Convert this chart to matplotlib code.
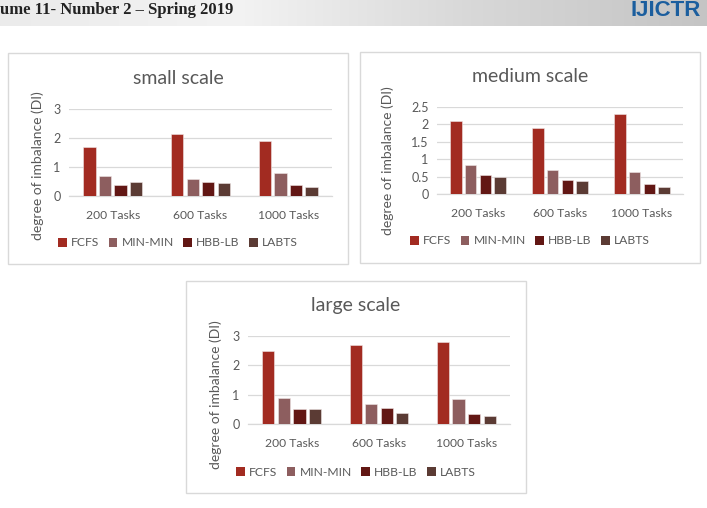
import numpy as np
import matplotlib
matplotlib.use("Agg")
import matplotlib.pyplot as plt
from matplotlib.patches import Rectangle
from matplotlib.colors import LinearSegmentedColormap

categories = ["200 Tasks", "600 Tasks", "1000 Tasks"]
series = ["FCFS", "MIN-MIN", "HBB-LB", "LABTS"]
colors = ["#A22B21", "#8D5E5F", "#621714", "#5B3B34"]

small_vals = {
    "FCFS": [1.70, 2.12, 1.90],
    "MIN-MIN": [0.69, 0.60, 0.80],
    "HBB-LB": [0.39, 0.49, 0.37],
    "LABTS": [0.48, 0.45, 0.32],
}
medium_vals = {
    "FCFS": [2.10, 1.89, 2.30],
    "MIN-MIN": [0.85, 0.70, 0.64],
    "HBB-LB": [0.55, 0.42, 0.29],
    "LABTS": [0.49, 0.39, 0.22],
}
large_vals = {
    "FCFS": [2.49, 2.70, 2.80],
    "MIN-MIN": [0.91, 0.70, 0.85],
    "HBB-LB": [0.51, 0.57, 0.35],
    "LABTS": [0.51, 0.39, 0.28],
}
small_ticks = [0, 1, 2, 3]
medium_ticks = [0, 0.5, 1, 1.5, 2, 2.5]
large_ticks = [0, 1, 2, 3]

FONT = ["Lato", "DejaVu Sans"]
plt.rcParams["font.family"] = FONT
GRAY = "#595959"

W, H = 707, 508
fig = plt.figure(figsize=(W / 100, H / 100), dpi=100)
fig.patch.set_facecolor("white")

# header band with gradient
hdr = fig.add_axes([0, 1 - 26 / H, 1, 26 / H])
grad = np.linspace(0, 1, 256)
grad = np.vstack([grad, grad])
cmap = LinearSegmentedColormap.from_list("g", ["#EBEBEB", "#F3F3F3", "#D8D8D8", "#C4C4C4"])
hdr.imshow(grad, aspect="auto", cmap=cmap, extent=[0, 1, 0, 1])
hdr.set_xlim(0, 1)
hdr.set_ylim(0, 1)
hdr.axis("off")
fig.text(0 / W, 1 - 10 / H, "ume 11- Number 2 \u2013 Spring 2019", family=["Liberation Serif"],
         fontweight="bold", fontsize=12, color="#222222", ha="left", va="center")
fig.text(701 / W, 1 - 10 / H, "IJICTR", family=["Liberation Sans"], fontweight="bold",
         fontsize=16, color="#1B5E9E", ha="right", va="center")


def pix_axes(x0, y0, x1, y1):
    return [x0 / W, 1 - y1 / H, (x1 - x0) / W, (y1 - y0) / H]


def draw_chart(box, plot, title, vals, ticks, ymax, title_y, ylab_xy, legend_y):
    bx0, by0, bx1, by1 = box
    fig.patches.append(Rectangle((bx0 / W, 1 - by1 / H), (bx1 - bx0) / W, (by1 - by0) / H,
                                 transform=fig.transFigure, facecolor="white",
                                 edgecolor="#D9D9D9", linewidth=1.0, zorder=-5))
    ax = fig.add_axes(pix_axes(*plot))
    ax.set_facecolor("none")
    x = np.arange(len(categories))
    pitch = 0.178
    bw = 0.14
    for i, s in enumerate(series):
        ax.bar(x + (i - 1.5) * pitch, vals[s], width=bw, color=colors[i],
               edgecolor="#F0E6E6", linewidth=0.4, label=s, zorder=3)
    ax.set_xlim(-0.5, len(categories) - 0.5)
    ax.set_ylim(0, ymax)
    ax.set_yticks(ticks)
    ax.set_yticklabels([("%g" % t) for t in ticks], color=GRAY, fontsize=9)
    ax.set_xticks(x)
    ax.set_xticklabels(categories, color=GRAY, fontsize=8.7)
    ax.tick_params(axis="y", length=0, pad=6)
    ax.tick_params(axis="x", length=0, pad=10)
    ax.grid(axis="y", color="#D9D9D9", linewidth=0.9, zorder=0)
    for sp in ["top", "right", "left"]:
        ax.spines[sp].set_visible(False)
    ax.spines["bottom"].set_color("#D9D9D9")
    ax.spines["bottom"].set_linewidth(0.9)
    cx = (bx0 + bx1) / 2
    fig.text(cx / W, 1 - title_y / H, title, fontsize=14, color=GRAY,
             ha="center", va="center")
    fig.text(ylab_xy[0] / W, 1 - ylab_xy[1] / H, "degree of imbalance (DI)", color=GRAY,
             fontsize=10, rotation=90, ha="center", va="center")
    leg = fig.legend(*ax.get_legend_handles_labels(), loc="center",
                     bbox_to_anchor=(cx / W, 1 - legend_y / H), ncol=4, frameon=False,
                     fontsize=8.7, handlelength=0.7, handleheight=0.7,
                     handletextpad=0.35, columnspacing=0.8)
    for t in leg.get_texts():
        t.set_color(GRAY)
    for h in leg.legend_handles:
        h.set_edgecolor("none")
    return ax


draw_chart((8, 53, 348, 264), (69, 108.7, 332, 196), "small scale", small_vals,
           small_ticks, 3, 78, (38, 166), 243)
draw_chart((360, 52, 700, 263), (437, 106.7, 683, 194.3), "medium scale", medium_vals,
           medium_ticks, 2.5, 76, (388, 161), 241)
draw_chart((186, 281, 526, 493), (248, 336, 510, 424.3), "large scale", large_vals,
           large_ticks, 3, 306, (216, 395), 472)

fig.savefig("out.png", dpi=100)
